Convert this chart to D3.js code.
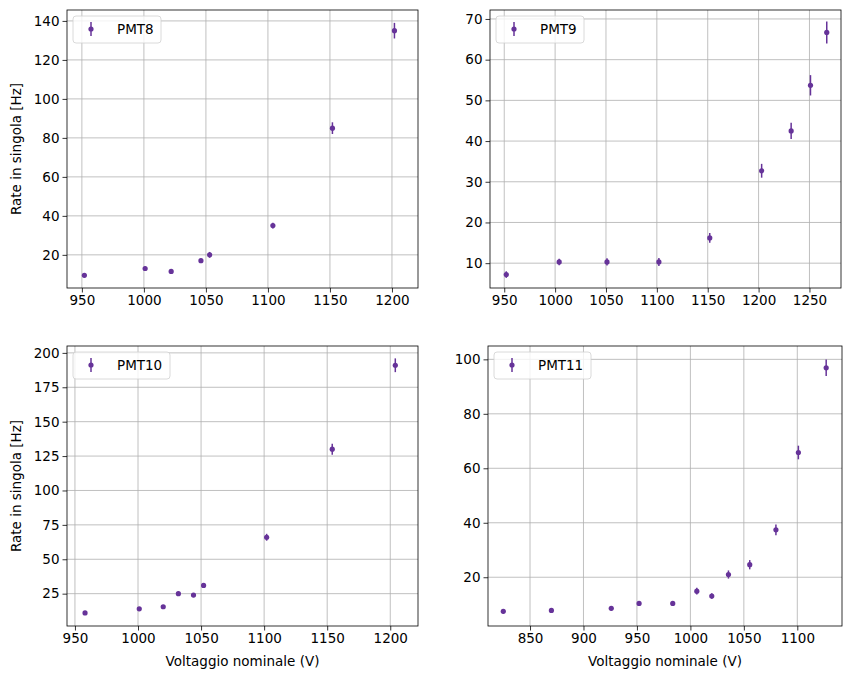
<!DOCTYPE html>
<html><head><meta charset="utf-8">
<script src="https://cdn.jsdelivr.net/npm/d3@7"></script>
<style>body{margin:0;background:#fff;font-family:"DejaVu Sans",sans-serif;}</style>
</head><body><div class="container"></div>
<script>
(function(){

// data
var pmt8V = [952, 1001, 1022, 1046, 1053, 1104, 1152, 1202];
var pmt8R = [9.5, 13, 11.5, 17, 20, 35, 85, 135];
var pmt8E = [1, 1, 1, 1, 1.5, 1.5, 3, 4];

var pmt9V = [952, 1004, 1051, 1102, 1152, 1203, 1232, 1251, 1267];
var pmt9R = [7.2, 10.3, 10.3, 10.3, 16.2, 32.7, 42.5, 53.7, 66.7];
var pmt9E = [0.8, 0.8, 0.9, 1, 1.2, 1.7, 2, 2.5, 2.7];

var pmt10V = [958, 1001, 1020, 1032, 1044, 1052, 1102, 1154, 1204];
var pmt10R = [11, 14, 15.5, 25, 24, 31, 66, 130, 191];
var pmt10E = [1, 1, 1, 1.5, 1.5, 1.5, 2.5, 4, 5];

var pmt11V = [825, 870, 926, 952, 983.5, 1006, 1020, 1035.6, 1055.5, 1080, 1101, 1127];
var pmt11R = [7.5, 7.8, 8.6, 10.4, 10.4, 14.9, 13.1, 21, 24.6, 37.4, 65.8, 96.9];
var pmt11E = [0.8, 0.8, 0.8, 0.8, 0.8, 1.2, 1, 1.5, 1.7, 2, 2.5, 3];

var panels = [
  {name: "PMT8", v: pmt8V, r: pmt8R, e: pmt8E, xd: [938, 1221], yd: [3, 145.6],
   xt: [950, 1000, 1050, 1100, 1150, 1200], yt: [20, 40, 60, 80, 100, 120, 140],
   box: [67, 10, 418, 288], ylab: true, xlab: false},
  {name: "PMT9", v: pmt9V, r: pmt9R, e: pmt9E, xd: [936, 1281], yd: [3.9, 72.2],
   xt: [950, 1000, 1050, 1100, 1150, 1200, 1250], yt: [10, 20, 30, 40, 50, 60, 70],
   box: [490, 10, 841, 288], ylab: false, xlab: false},
  {name: "PMT10", v: pmt10V, r: pmt10R, e: pmt10E, xd: [943.7, 1222], yd: [1.5, 205],
   xt: [950, 1000, 1050, 1100, 1150, 1200], yt: [25, 50, 75, 100, 125, 150, 175, 200],
   box: [67, 346, 418, 626], ylab: true, xlab: true},
  {name: "PMT11", v: pmt11V, r: pmt11R, e: pmt11E, xd: [810.7, 1141.8], yd: [2.1, 104.9],
   xt: [850, 900, 950, 1000, 1050, 1100], yt: [20, 40, 60, 80, 100],
   box: [488, 346, 842, 626], ylab: false, xlab: true}
];

var color = "#663399";
var fs = 13.5;

var svg = d3.select(".container").append("svg")
  .attr("width", 850).attr("height", 679);

panels.forEach(function(p){
  var x0 = p.box[0], y0 = p.box[1], x1 = p.box[2], y1 = p.box[3];
  var x = d3.scaleLinear().domain(p.xd).range([x0, x1]);
  var y = d3.scaleLinear().domain(p.yd).range([y1, y0]);
  var g = svg.append("g");

  // grid
  g.selectAll(".gx").data(p.xt).enter().append("line")
    .attr("x1", d => x(d)).attr("x2", d => x(d)).attr("y1", y0).attr("y2", y1)
    .attr("stroke", "#b0b0b0").attr("stroke-width", 0.8);
  g.selectAll(".gy").data(p.yt).enter().append("line")
    .attr("y1", d => y(d)).attr("y2", d => y(d)).attr("x1", x0).attr("x2", x1)
    .attr("stroke", "#b0b0b0").attr("stroke-width", 0.8);

  var xa = g.append("g").attr("transform", "translate(0," + y1 + ")")
    .call(d3.axisBottom(x).tickValues(p.xt).tickSize(4.5).tickPadding(3).tickFormat(d3.format("d")));
  var ya = g.append("g").attr("transform", "translate(" + x0 + ",0)")
    .call(d3.axisLeft(y).tickValues(p.yt).tickSize(4.5).tickPadding(3).tickFormat(d3.format("d")));
  [xa, ya].forEach(function(a){
    a.select(".domain").remove();
    a.selectAll("text").attr("font-size", fs).attr("fill", "#000")
      .attr("font-family", "DejaVu Sans");
    a.selectAll("line").attr("stroke", "#000").attr("stroke-width", 0.8);
  });

  g.append("rect").attr("x", x0).attr("y", y0).attr("width", x1 - x0).attr("height", y1 - y0)
    .attr("fill", "none").attr("stroke", "#000").attr("stroke-width", 0.8);

  // error bars and points
  var idx = d3.range(p.v.length);
  g.selectAll(".eb").data(idx).enter().append("line")
    .attr("x1", i => x(p.v[i])).attr("x2", i => x(p.v[i]))
    .attr("y1", i => y(p.r[i] - p.e[i])).attr("y2", i => y(p.r[i] + p.e[i]))
    .attr("stroke", color).attr("stroke-width", 1.5);
  g.selectAll(".pt").data(idx).enter().append("circle")
    .attr("cx", i => x(p.v[i])).attr("cy", i => y(p.r[i])).attr("r", 2.6)
    .attr("fill", color);

  // legend
  var lw = p.name.length > 4 ? 97 : 88;
  g.append("rect").attr("x", x0 + 6).attr("y", y0 + 6).attr("width", lw).attr("height", 27)
    .attr("rx", 3).attr("fill", "#fff").attr("fill-opacity", 0.8)
    .attr("stroke", "#d0d0d0").attr("stroke-width", 0.8);
  g.append("line").attr("x1", x0 + 24).attr("x2", x0 + 24).attr("y1", y0 + 12).attr("y2", y0 + 26)
    .attr("stroke", color).attr("stroke-width", 1.5);
  g.append("circle").attr("cx", x0 + 24).attr("cy", y0 + 19).attr("r", 2.6).attr("fill", color);
  g.append("text").attr("x", x0 + 50).attr("y", y0 + 24).attr("font-size", fs)
    .text(p.name);

  if (p.ylab){
    g.append("text").attr("transform", "translate(21," + ((y0 + y1) / 2) + ") rotate(-90)")
      .attr("text-anchor", "middle").attr("font-size", fs).text("Rate in singola [Hz]");
  }
  if (p.xlab){
    g.append("text").attr("x", (x0 + x1) / 2).attr("y", y1 + 40)
      .attr("text-anchor", "middle").attr("font-size", fs).text("Voltaggio nominale (V)");
  }
});

})();
</script>
</body></html>
